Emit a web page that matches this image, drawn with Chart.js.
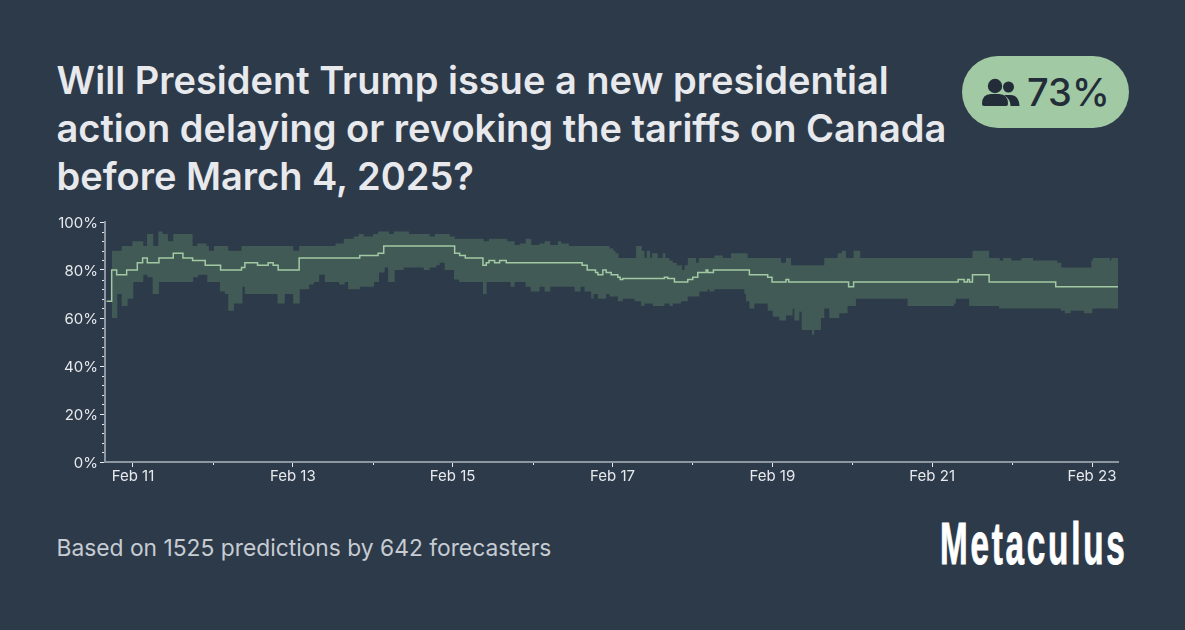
<!DOCTYPE html>
<html>
<head>
<meta charset="utf-8">
<script src="https://cdn.jsdelivr.net/npm/chart.js@4"></script>
<style>
  html, body { margin: 0; padding: 0; background: #2d3a4a; }
  body { position: relative; width: 1185px; height: 630px; overflow: hidden; font-family: Inter, sans-serif; }
  .title { position: absolute; left: 56.5px; top: 56px; width: 900px; font-size: 38px; line-height: 48px; font-weight: 600; color: #e7e9ec; white-space: nowrap; }
  .badge { position: absolute; left: 962px; top: 56px; width: 167px; height: 72px; border-radius: 36px; background: #a1c9a3; }
  .badge svg { position: absolute; left: 20px; top: 22px; }
  .badge span { position: absolute; left: 65px; top: 13px; font-size: 38px; line-height: 46px; font-weight: 500; color: #232d39; }
  .wrap { position: absolute; left: 0; top: 210px; width: 1185px; height: 290px; }
  .footer { position: absolute; left: 56.5px; top: 534px; font-size: 22.8px; line-height: 28px; color: #c6ccd2; white-space: nowrap; }
  .logo { position: absolute; left: 940px; top: 511px; font-family: "Liberation Sans", sans-serif; font-weight: 700; font-size: 60px; line-height: 66px; color: #fff; letter-spacing: 5px; -webkit-text-stroke: 1px #fff; transform-origin: left top; transform: scaleX(0.554); white-space: nowrap; }
</style>
</head>
<body>
<div class="title">Will President Trump issue a new presidential<br>action delaying or revoking the tariffs on Canada<br>before March 4, 2025?</div>
<div class="badge">
  <svg width="38" height="30" viewBox="0 0 38 30">
    <circle cx="26.5" cy="9" r="5.5" fill="#232d39"/>
    <path d="M22 17 h6 q9 0 9.5 11 h-9 q0 -7 -6.5 -11z" fill="#232d39"/>
    <circle cx="13" cy="8" r="7.2" fill="#232d39"/>
    <path d="M0 26 q0 -10 9 -10 h8 q9 0 9 10 q0 2 -2 2 h-22 q-2 0 -2 -2z" fill="#232d39"/>
  </svg>
  <span>73%</span>
</div>
<div class="wrap"><canvas id="c"></canvas></div>
<div class="footer">Based on 1525 predictions by 642 forecasters</div>
<div class="logo">Metaculus</div>
<script>
// hours since Feb 11 00:00
const medianHours = [-7.9,-6.4,-4.9,-1.9,1.3,2.9,4.3,7.8,12.1,15,17.9,21.7,26.3,32.6,33.6,37.4,40.6,42.1,43.6,49.9,68.1,73.6,75.3,96.6,98.1,99.8,105.1,106.1,106.9,108.6,110.1,112.1,134.9,136.4,138.9,139.6,141.1,142.1,143.6,145.6,146.3,147.1,159.6,160.6,162.6,166.6,168.1,169.6,172.1,172.6,174.3,185.1,190.6,191.9,196.1,196.9,214.9,216.4,247.8,249.6,250.6,251.2,252.1,257.1,277.1,295.8];
const medianValues = [67,80,78,80,83,85,83,85,87,85,84,82,80,81,83,82,83,82,80,85,86,87,90,87,86,85,82,83,84,83,84,83,82,80,79,78,80,79,78,77,76,76.5,77,76.5,75,76,77,79,80,79,80,78,77,75,76,75,73,75,76,75,76,75,78,75,73,73];

const upperHours = [-6.4,-3.4,-0.2,3.1,4.2,6.1,7.6,8.9,10.5,12.1,17.9,19.3,22.1,22.8,24.3,28.6,32.6,48.1,49.9,60.8,63.3,66.3,67.8,69.3,72.1,73.6,76.9,78.3,82.9,89.1,90.7,95.1,96.6,105.3,106.9,112.4,114.6,116.1,117.9,119.6,122.1,123.6,125.3,127.6,128.6,130.9,143.1,144.3,144.9,145.8,151.1,152.8,153.6,154.3,155.3,155.9,157.6,159.1,159.9,161.1,162.1,163.3,164.9,165.6,166.6,169.1,169.9,174.6,177.1,179.6,184.6,194.6,196.1,197.6,207.6,211.6,212.9,214.1,216.4,218.4,252.1,257.1,260.3,261.3,263.8,266.8,270.3,277.6,278.8,287.8,288.3,293.3,293.8,295.8];
const upperValues = [88,90,92,90,95,90,96,95,92,95,90,91,90,88,90,88,90,88,90,91,93,94,95,94,95,96,95,96,95,94,95,94,93,92,93,92,90.4,91,93,90.4,91,92,90.4,92,91,90,89,88,87,85,90,88,85,88,85,87,85,87,85,84,83,82,80,82,85,83,85,86,85,87,85,83,85,82,85,87,88,85,88,85,88,85,84,85,84,85,84,83,81,84,85,84,85,85];

const lowerHours = [-6.4,-4.7,-3.4,-1.6,0.1,3.1,4.3,5.9,7.8,18.1,19.6,22.3,26.1,27.6,28.6,30.3,32.9,33.6,43.4,45.6,48.1,50.1,52.9,54.3,55.9,57.6,61.9,63.6,64.6,68.1,72.4,73.9,75.6,76.6,78.6,81.3,87.3,89.1,91.1,92.1,93.6,96.4,97.9,105.1,106.2,113.4,114.6,117.9,119.4,122.1,123.6,125.3,132.6,134.4,135.6,137.6,138.3,139.6,142.1,143.1,145.6,147.1,150.6,152.6,153.6,156.1,159.6,161.1,162.1,164.6,166.6,170.1,172.6,173.1,174.6,183.6,184.1,185.1,186.6,190.6,192.1,194.1,196.1,198.1,198.6,200.1,200.8,203.9,204.6,206.6,207.6,209.1,212.1,214.6,217.1,232.6,246.6,247.1,251.1,260.1,278.6,279.8,281.6,285.6,288.1,295.8];
const lowerValues = [60,70,65,68,75,78,77,70,75,77,78,75,71,70,63,66,73,70,66,70,66,72,74,75,78,75,74,75,72,73,75,79,81,75,80,81,80,81,82,83,80,76,75,70,75,73,75,73,71,73,71,73,71,73,71,68,70,68,70,69,67,68,67,65,66,65,66,65,66,67,69,71,72,71,72,70,67,64,66,63,60.5,59,61,64,59,62.6,55,53,55,60,64,60,62,65,68,65,66,68,65,64,63,62,63,62,64,64];

const dayTicks = [0,24,48,72,96,120,144,168,192,216,240,264,288];
const dayLabels = ["Feb 11","","Feb 13","","Feb 15","","Feb 17","","Feb 19","","Feb 21","","Feb 23"];
const percentTicks = [0,4,8,12,16,20,24,28,32,36,40,44,48,52,56,60,64,68,72,76,80,84,88,92,96,100];

const axisColor = "#8e96a1";
const tickText = "#e7e9ec";
const bandColor = "#425a55";
const lineColor = "#a1c9a3";

function points(xs, ys) {
  return xs.map((x, i) => ({ x: x, y: ys[i] }));
}

// chart.js has one tick length per axis, the short minor ticks are added here
const minorTicks = {
  id: "minorTicks",
  afterDraw(chart) {
    const { ctx, scales } = chart;
    ctx.save();
    ctx.strokeStyle = tickText;
    ctx.lineWidth = 1;
    ctx.beginPath();
    scales.y.ticks.forEach((t) => {
      if (t.value % 20 === 0) return;
      const py = Math.round(scales.y.getPixelForValue(t.value)) + 0.5;
      ctx.moveTo(chart.chartArea.left - 3, py);
      ctx.lineTo(chart.chartArea.left - 1, py);
    });
    scales.x.ticks.forEach((t, i) => {
      if (dayLabels[i]) return;
      const px = Math.round(scales.x.getPixelForValue(t.value)) + 0.5;
      ctx.moveTo(px, chart.chartArea.bottom + 1);
      ctx.lineTo(px, chart.chartArea.bottom + 3);
    });
    ctx.stroke();
    ctx.restore();
  },
};

new Chart(document.getElementById("c"), {
  type: "line",
  plugins: [minorTicks],
  data: {
    datasets: [
      { data: points(upperHours, upperValues), stepped: true, borderWidth: 0, pointRadius: 0, fill: "+1", backgroundColor: bandColor, order: 2 },
      { data: points(lowerHours, lowerValues), stepped: true, borderWidth: 0, pointRadius: 0, fill: false, order: 2 },
      { data: points(medianHours, medianValues), stepped: true, borderColor: lineColor, borderWidth: 1.5, pointRadius: 0, fill: false, order: 1 },
    ],
  },
  options: {
    responsive: true,
    maintainAspectRatio: false,
    animation: false,
    layout: { padding: { left: 55, right: 67, top: 12, bottom: 10 } },
    plugins: { legend: { display: false }, tooltip: { enabled: false } },
    scales: {
      x: {
        type: "linear",
        min: -8.4,
        max: 295.8,
        afterBuildTicks: (scale) => { scale.ticks = dayTicks.map((v) => ({ value: v })); },
        afterFit: (scale) => { scale.height = 28; },
        border: { color: axisColor, width: 2 },
        grid: {
          drawOnChartArea: false,
          tickLength: 5,
          tickColor: (c) => (dayLabels[c.index] ? tickText : "transparent"),
        },
        ticks: {
          autoSkip: false,
          maxRotation: 0,
          padding: 0,
          color: tickText,
          font: { family: "Inter", size: 15 },
          callback: (v, i) => dayLabels[i],
        },
      },
      y: {
        min: 0,
        max: 100,
        afterBuildTicks: (scale) => { scale.ticks = percentTicks.map((v) => ({ value: v })); },
        afterFit: (scale) => { scale.width = 50; },
        border: { color: axisColor, width: 2 },
        grid: {
          drawOnChartArea: false,
          tickLength: 5,
          tickColor: (c) => (percentTicks[c.index] % 20 === 0 ? tickText : "transparent"),
        },
        ticks: {
          autoSkip: false,
          padding: 2,
          labelOffset: 1,
          color: tickText,
          font: { family: "Inter", size: 15 },
          callback: (v) => (v % 20 === 0 ? v + "%" : ""),
        },
      },
    },
  },
});
</script>
</body>
</html>
